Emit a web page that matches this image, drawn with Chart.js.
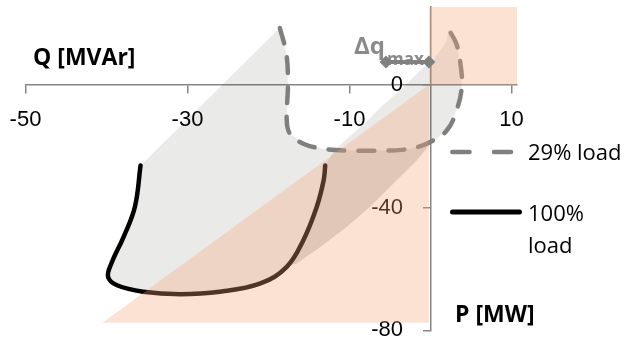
<!DOCTYPE html>
<html>
<head>
<meta charset="utf-8">
<script src="https://cdn.jsdelivr.net/npm/chart.js@4"></script>
<style>
  html, body { margin: 0; padding: 0; background: #fff; }
  canvas { display: block; }
</style>
</head>
<body>
<canvas id="pq" width="627" height="339"></canvas>
<script>
// P-Q diagram: Q [MVAr] on the x axis, P [MW] on the y axis

// tick labels
var qTicks = [-50, -30, -10, 10];
var pTicks = [-80, -40, 0];

// 29% load curve (dashed)
var load29Q = [-18.6, -17.8, -17.6, -17.75, -17.35, -15.7, -13.3, -10.3, -5.4, -2.5, -0.1, 2.0, 3.2, 3.85, 3.7, 3.2, 2.2];
var load29P = [18.5, 10.1, 0.3, -11.7, -15.9, -19.2, -20.8, -21.4, -21.4, -20.8, -18.7, -14.9, -8.4, -0.9, 6.8, 13.3, 18.2];

// 100% load curve (solid)
var load100Q = [-35.8, -36.5, -37.9, -39.4, -39.8, -38.7, -35.5, -30.9, -26.0, -21.0, -17.75, -15.7, -14.05, -13.2, -13.0];
var load100P = [-26.3, -39.8, -49.6, -58.2, -62.6, -65.3, -67.4, -68.2, -67.4, -64.7, -59.3, -50.6, -39.8, -31.2, -26.3];

// grey area between the two load curves
var greyQ = [-18.6, -35.8, -36.5, -37.9, -39.4, -39.8, -38.7, -35.5, -30.9, -26.0, -21.0, -17.75,
             -16.5, -13.6, -10.35, -7.5, -4.2, -1.7, 0.0,
             2.0, 3.2, 3.85, 3.7, 3.2, 2.2,
             2.0, 0.0, -0.9, -3.4, -6.2, -7.8, -11.8,
             -13.3, -15.7, -17.35, -17.75, -17.6, -17.8];
var greyP = [18.5, -26.3, -39.8, -49.6, -58.2, -62.6, -65.3, -67.4, -68.2, -67.4, -64.7, -59.3,
             -58.2, -52.8, -46.3, -39.8, -31.2, -24.7, -19.2,
             -14.9, -8.4, -0.9, 6.8, 13.3, 18.2,
             14.3, 6.8, 5.6, -0.9, -7.4, -11.7, -21.1,
             -20.8, -19.2, -15.9, -11.7, 0.3, 10.1];

// darker band right of the 100% curve
var bandQ = [-13.0, -13.2, -14.05, -15.7, -17.75, -16.5, -13.6, -10.35, -7.5, -4.2, -1.7, 0.0, -2.5, -5.4, -10.3, -11.8];
var bandP = [-26.3, -31.2, -39.8, -50.6, -59.3, -58.2, -52.8, -46.3, -39.8, -31.2, -24.7, -19.2, -20.8, -21.4, -21.4, -21.1];

// orange areas
var orangeLowQ = [-40.5, -0.2, -0.2];
var orangeLowP = [-77.5, -77.5, 0];
var orangeTopQ = [-0.2, 10.7, 10.7, -0.2];
var orangeTopP = [0, 0, 25.3, 25.3];

// delta q max arrow
var dqQ = [-5.5, -0.2];
var dqP = [7.4, 7.4];

var axisGrey = '#868686';
var qMin = -50, qMax = 10.7, pMin = -80, pMax = 25.5;

function pts(qs, ps) {
  return qs.map(function (q, i) { return { x: q, y: ps[i] }; });
}

function area(qs, ps, color) {
  return {
    data: pts(qs, ps),
    showLine: true,
    fill: 'shape',
    backgroundColor: color,
    borderWidth: 0,
    pointRadius: 0,
    tension: 0
  };
}

var textPlugin = {
  id: 'textPlugin',
  beforeDatasetsDraw: function (chart) {
    var c = chart.ctx;
    c.save();
    c.fillStyle = '#8a8a8a';
    c.textBaseline = 'alphabetic';
    c.font = 'bold 24px "Open Sans"';
    c.fillText('Δq', 354, 54);
    c.font = 'bold 17px "Open Sans"';
    c.fillText('max', 387, 65);
    c.restore();
  },
  afterDraw: function (chart) {
    var c = chart.ctx;
    c.save();
    c.fillStyle = '#000';
    c.textBaseline = 'alphabetic';
    c.font = 'bold 23px "Open Sans"';
    c.fillText('Q [MVAr]', 33, 65);
    c.fillText('P [MW]', 455, 322);

    c.font = '22px "Open Sans"';
    c.fillText('29% load', 528, 160);
    c.fillText('100%', 528, 221);
    c.fillText('load', 528, 253);

    c.lineCap = 'round';
    c.strokeStyle = '#7f7f7f';
    c.lineWidth = 4.5;
    c.setLineDash([17.2, 24.5]);
    c.beginPath();
    c.moveTo(452.3, 152);
    c.lineTo(511, 152);
    c.stroke();

    c.setLineDash([]);
    c.strokeStyle = '#000';
    c.lineWidth = 5;
    c.beginPath();
    c.moveTo(452.5, 212);
    c.lineTo(519.5, 212);
    c.stroke();
    c.restore();
  }
};

var ctx = document.getElementById('pq').getContext('2d');
var chart = new Chart(ctx, {
  type: 'scatter',
  data: {
    datasets: [
      {
        // delta q max
        data: pts(dqQ, dqP),
        showLine: true,
        borderColor: '#808080',
        borderWidth: 4,
        pointStyle: 'rectRot',
        pointRadius: 6.5,
        pointBackgroundColor: '#808080',
        pointBorderWidth: 0
      },
      area(orangeTopQ, orangeTopP, 'rgba(245, 165, 118, 0.32)'),
      area(orangeLowQ, orangeLowP, 'rgba(245, 165, 118, 0.32)'),
      {
        data: pts(load100Q, load100P),
        showLine: true,
        borderColor: '#000',
        borderWidth: 4.5,
        borderCapStyle: 'round',
        pointRadius: 0,
        tension: 0.4
      },
      {
        data: pts(load29Q, load29P),
        showLine: true,
        borderColor: '#7f7f7f',
        borderWidth: 4.5,
        borderDash: [16, 14],
        borderCapStyle: 'round',
        pointRadius: 0,
        tension: 0.4
      },
      area(bandQ, bandP, 'rgba(0, 0, 0, 0.08)'),
      area(greyQ, greyP, 'rgba(20, 20, 0, 0.09)')
    ]
  },
  options: {
    responsive: false,
    animation: false,
    events: [],
    layout: { padding: { left: 25.5, right: 109.8, top: 5.4, bottom: 8.6 } },
    plugins: { legend: { display: false }, tooltip: { enabled: false } },
    scales: {
      x: {
        type: 'linear',
        min: qMin,
        max: qMax,
        position: { y: 0 },
        afterBuildTicks: function (s) { s.ticks = qTicks.map(function (v) { return { value: v }; }); },
        afterFit: function (s) { s.paddingLeft = 0; s.paddingRight = 0; },
        grid: { drawOnChartArea: false, drawTicks: true, tickLength: 8, color: axisGrey, lineWidth: 1.5 },
        border: {
          color: axisGrey,
          width: 1.5,
          dash: function (c) {
            var s = c.scale;
            return [s.getPixelForValue(10) - s.left + 0.75, 2000];
          }
        },
        ticks: { font: { size: 22 }, color: '#000', padding: 14, maxRotation: 0 }
      },
      y: {
        type: 'linear',
        min: pMin,
        max: pMax,
        position: { x: 0 },
        afterBuildTicks: function (s) { s.ticks = pTicks.map(function (v) { return { value: v }; }); },
        afterFit: function (s) { s.paddingTop = 0; s.paddingBottom = 0; },
        grid: { drawOnChartArea: false, drawTicks: true, tickLength: 7, color: axisGrey, lineWidth: 1.5 },
        border: {
          color: axisGrey,
          width: 1.5,
          dash: function (c) {
            var s = c.scale;
            return [0, s.getPixelForValue(20) - s.top, 2000];
          }
        },
        ticks: {
          font: { size: 22 },
          color: '#000',
          // keep the labels clear of the axis line
          callback: function (v) { return v + '\u2003\u2005'; }
        }
      }
    }
  },
  plugins: [textPlugin]
});
</script>
</body>
</html>
